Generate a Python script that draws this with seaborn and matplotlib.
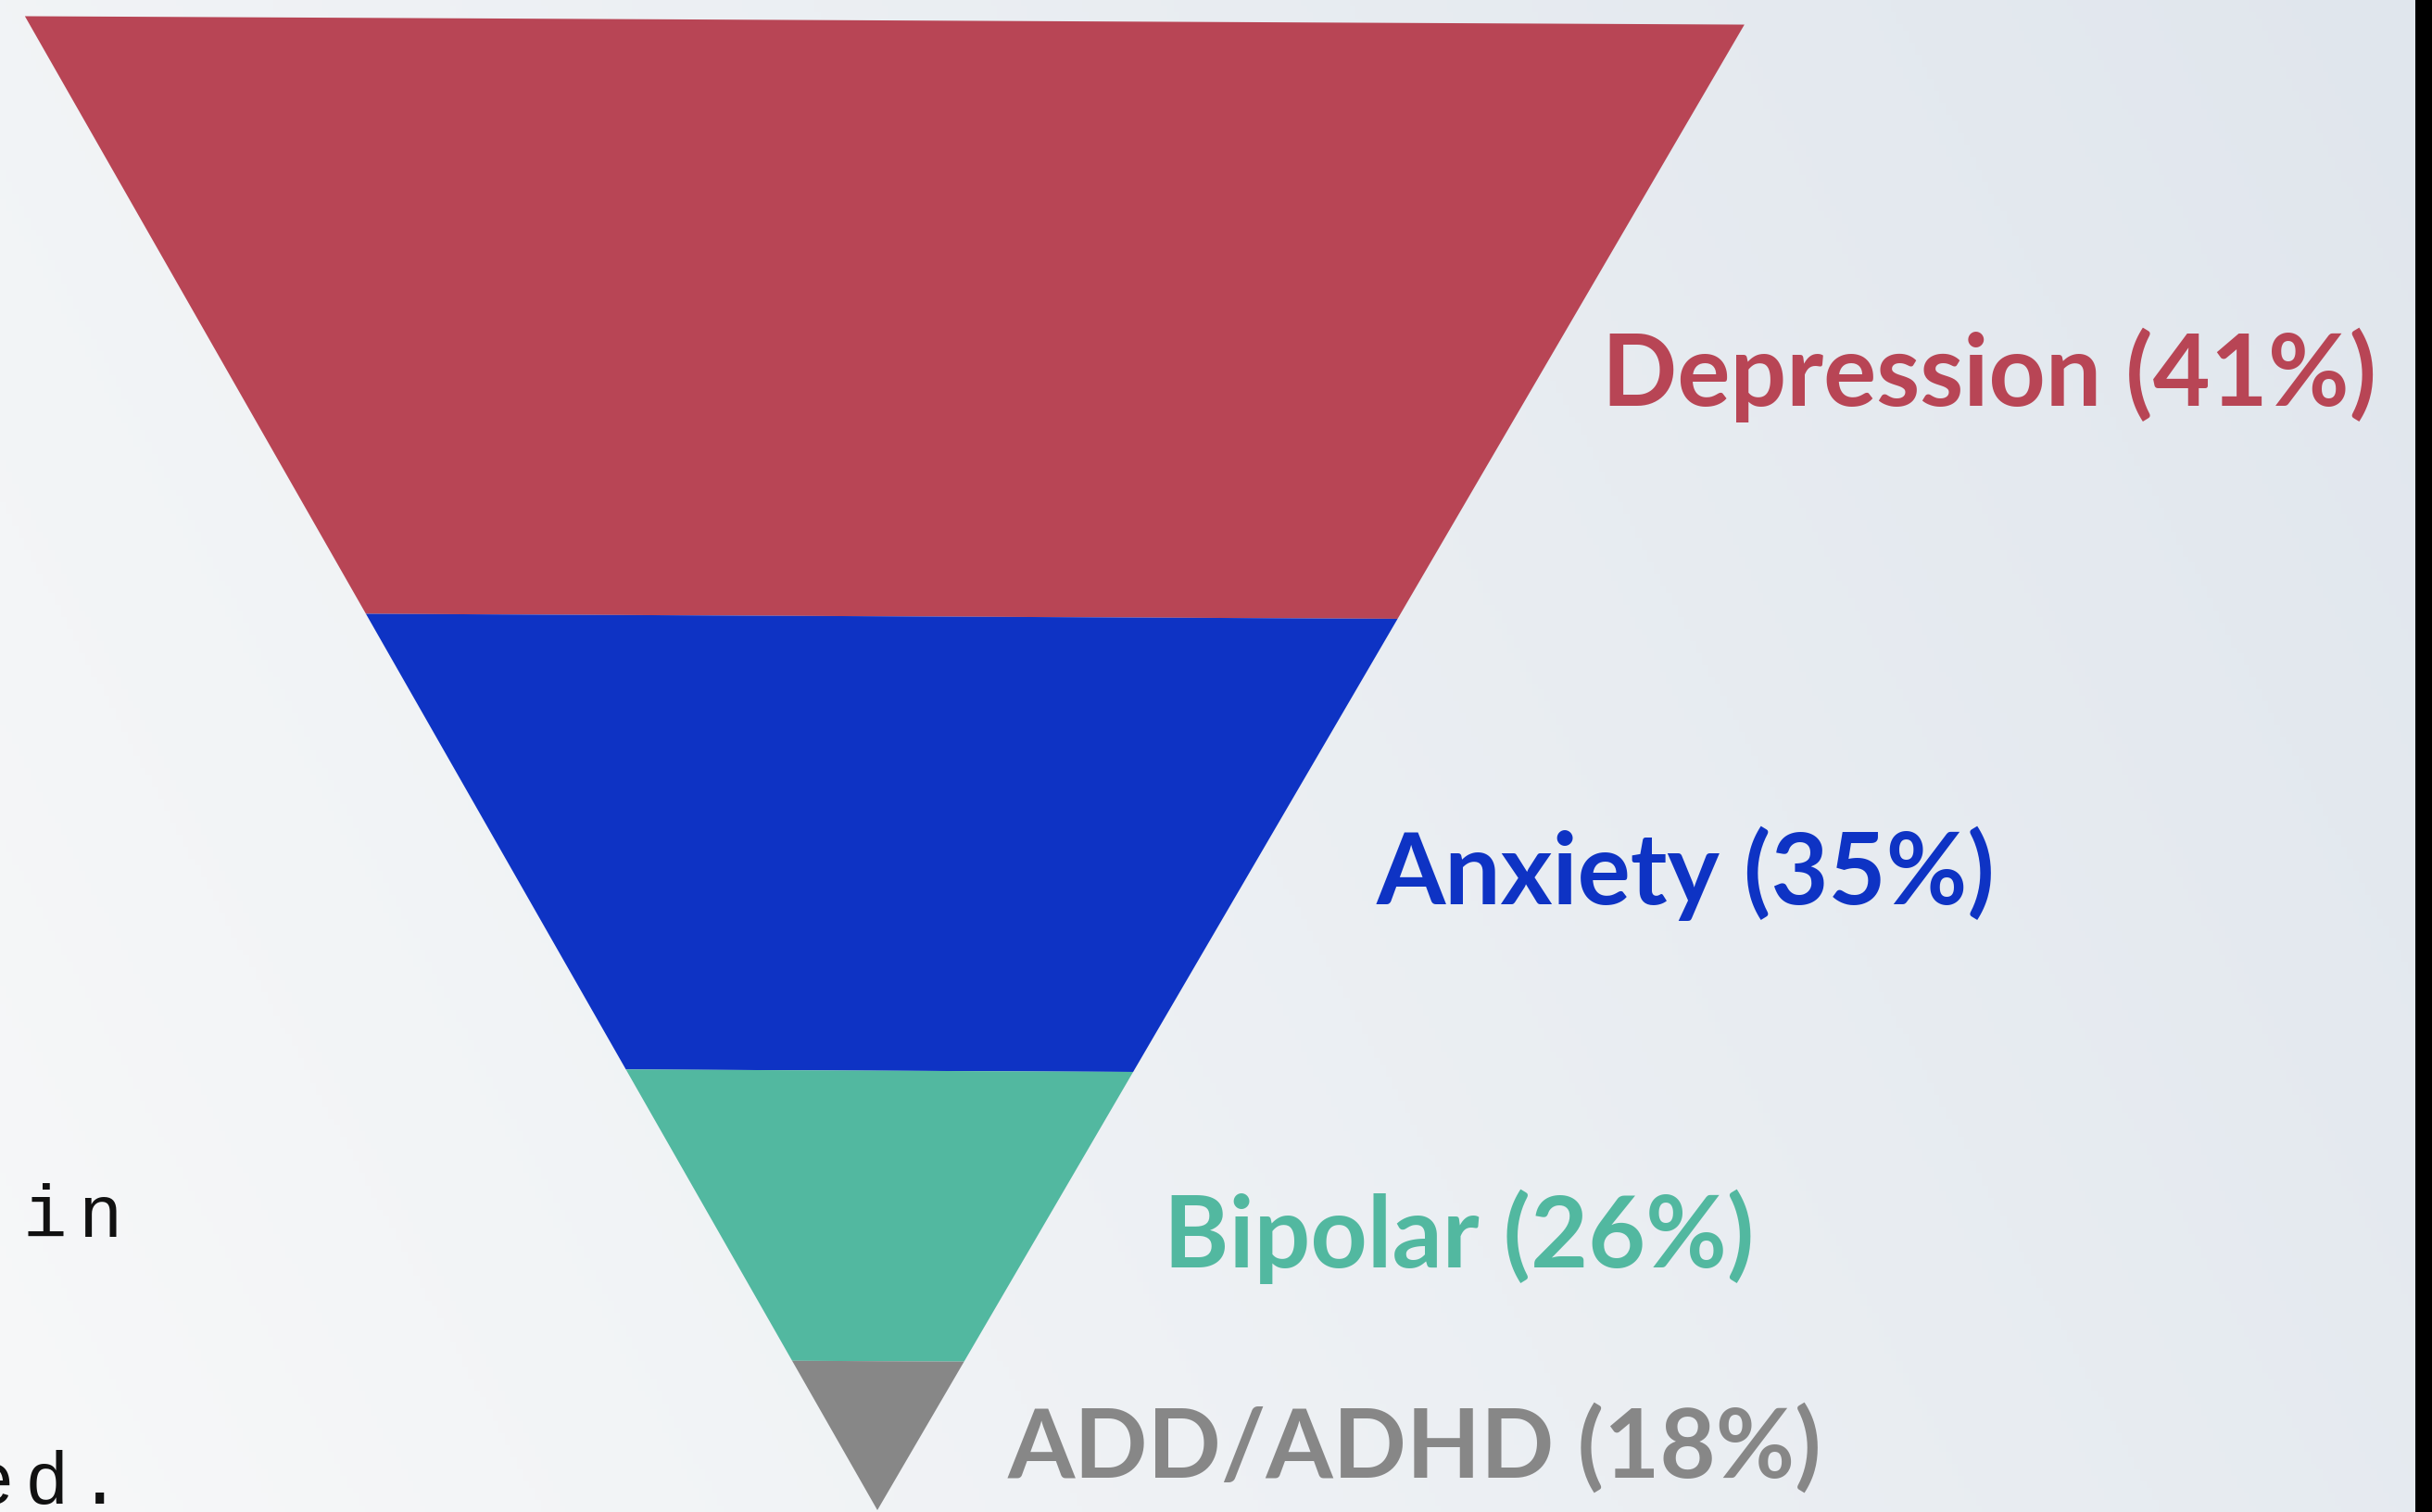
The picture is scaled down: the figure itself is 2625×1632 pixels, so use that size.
import numpy as np
import matplotlib
matplotlib.use("Agg")
import matplotlib.pyplot as plt
import matplotlib.transforms as mtransforms
import seaborn as sns

# funnel data: band levels run from 0 (tip) to 100 (rim)
categories = ["Depression", "Anxiety", "Bipolar", "ADD/ADHD"]
shares = [41, 35, 26, 18]
band_tops = [100, 60, 29.5, 10]
band_bottoms = [60, 29.5, 10, 0]
colors = ["#B84555", "#0E33C4", "#52B8A0", "#878787"]

# where the labels sit (x in half-width units, y in level units, baseline)
label_x = [0.843, 0.580, 0.333, 0.151]
label_y = [74.1, 40.7, 16.3, 2.2]
label_size = [77, 77, 77, 75]

sns.set_theme(style="white")
plt.rcParams["font.family"] = ["Lato", "DejaVu Sans"]

W, H, DPI = 2625, 1632, 100
fig = plt.figure(figsize=(W / DPI, H / DPI), dpi=DPI)

# soft background gradient, lighter bottom-left, blue-grey to the right
bg = fig.add_axes([0, 0, 1, 1])
gx, gy = np.meshgrid(np.linspace(0, 1, 400), np.linspace(0, 1, 250))
t = 0.75 * gx + 0.25 * gy
light = np.array([247, 248, 249]) / 255
dark = np.array([224, 230, 237]) / 255
img = light + (dark - light) * t[..., None]
bg.imshow(img, origin="lower", extent=[0, 1, 0, 1], aspect="auto")
bg.axvspan(2607 / W, 1, color="black", lw=0)
bg.set_xlim(0, 1)
bg.set_ylim(0, 1)
bg.axis("off")

# cropped monospace text fragments at the left edge
for ch, x in zip("in", [48, 108]):
    fig.text(x / W, 1 - 1335 / H, ch, family="Liberation Mono", fontsize=57,
             ha="center", va="baseline", color="#111111")
for ch, x in zip("ed.", [-8, 50, 108]):
    fig.text(x / W, 1 - 1623 / H, ch, family="Liberation Mono", fontsize=57,
             ha="center", va="baseline", color="#111111")

# funnel axes
ax = fig.add_axes([19 / W, 2 / H, 1856 / W, 1608 / H])
ax.set_xlim(-1, 1)
ax.set_ylim(0, 100)
ax.axis("off")
ax.patch.set_alpha(0)

# the whole funnel is tilted a touch clockwise around its tip
apex = ax.transData.transform((0, 0))
tilt = ax.transData + mtransforms.Affine2D().rotate_deg_around(apex[0], apex[1], -0.28)

for top, bot, c in zip(band_tops, band_bottoms, colors):
    xs = [-top / 100, top / 100, bot / 100, -bot / 100]
    ys = [top, top, bot, bot]
    ax.fill(xs, ys, color=c, lw=0, transform=tilt, clip_on=False)

for name, s, c, lx, ly, fs in zip(categories, shares, colors, label_x, label_y, label_size):
    ax.text(lx, ly, f"{name} ({s}%)", color=c, fontsize=fs, fontweight="bold",
            ha="left", va="baseline")

ax.set_xlim(-1, 1)
ax.set_ylim(0, 100)

fig.savefig("out.png", dpi=DPI)
